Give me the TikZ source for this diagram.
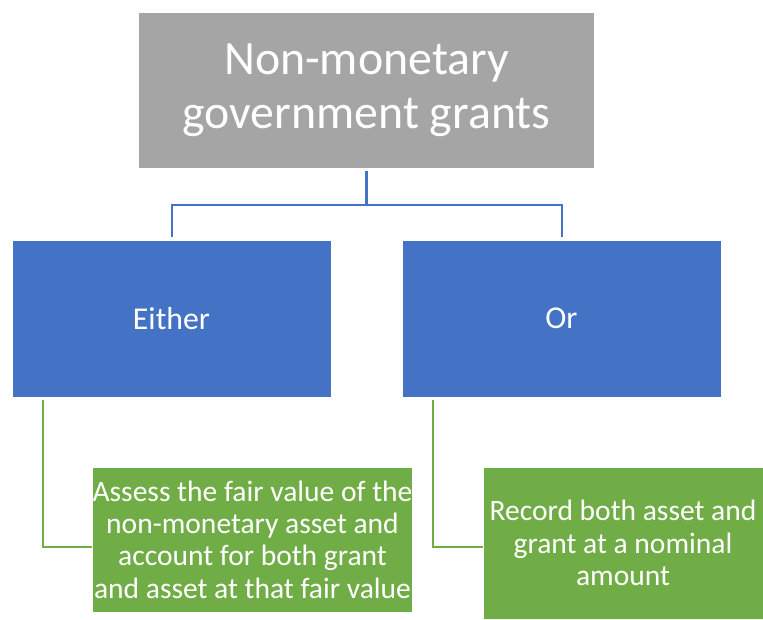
\documentclass[tikz,border=0pt]{standalone}
\usepackage{fontspec}
\setmainfont{Carlito}
\definecolor{grantgray}{HTML}{A5A5A5}
\definecolor{grantblue}{HTML}{4472C4}
\definecolor{grantgreen}{HTML}{70AD47}
\tikzset{
  topbox/.style={fill=grantgray,text=white,draw=white,line width=0.6pt,minimum width=11.4cm,minimum height=3.9cm,align=center,inner sep=0pt,font=\fontsize{34}{38.5}\selectfont},
  choicebox/.style={fill=grantblue,text=white,draw=white,line width=0.6pt,minimum width=7.975cm,minimum height=3.925cm,align=center,inner sep=0pt,font=\fontsize{22.6}{26}\selectfont},
  resultbox/.style={fill=grantgreen,text=white,draw=white,line width=0.6pt,align=center,inner sep=0pt,font=\fontsize{21}{23}\selectfont},
  blueline/.style={draw=grantblue,line width=1.5pt},
  greenline/.style={draw=grantgreen,line width=1.5pt}
}
\begin{document}
\begin{tikzpicture}[x=0.025cm,y=-0.025cm]
  \useasboundingbox (0,0) rectangle (763,619);
  \node[topbox] (grants) at (366.5,90) {Non-monetary\\government grants};
  \node[choicebox] (either) at (171.5,318.5) {Either};
  \node[choicebox] (or) at (561.5,318.5) {Or};
  \node[resultbox,minimum width=7.975cm,minimum height=3.625cm] (fair) at (252.5,539.5)
    {Assess the fair value of the\\non-monetary asset and\\account for both grant\\and asset at that fair value};
  \node[resultbox,minimum width=7.0cm,minimum height=3.8cm] (nominal) at (623,543)
    {Record both asset and\\grant at a nominal\\amount};
  % tree connectors
  \coordinate (split) at (366.5,205);
  \draw[blueline] ([yshift=-2pt]grants.south) -- (split);
  \draw[blueline] (split) -| ([xshift=0.5pt,yshift=2pt]either.north);
  \draw[blueline] (split) -| ([xshift=0.5pt,yshift=2pt]or.north);
  \coordinate (fairtop) at (43,400);
  \coordinate (nominaltop) at (433,400);
  \draw[greenline] (fairtop) |- (fair.west |- 0,547);
  \draw[greenline] (nominaltop) |- (nominal.west |- 0,547);
\end{tikzpicture}
\end{document}
